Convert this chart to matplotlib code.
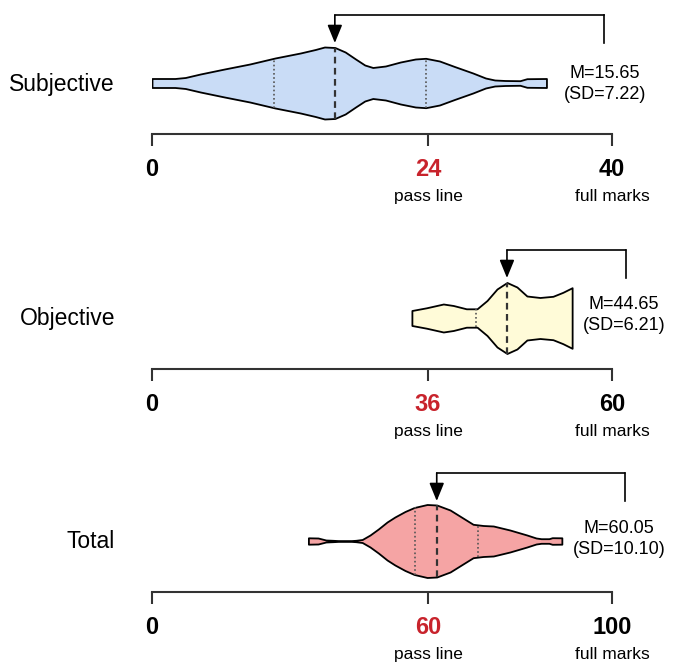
import numpy as np
import matplotlib
matplotlib.use("Agg")
import matplotlib.pyplot as plt
from matplotlib import transforms

plt.rcParams['font.family'] = ['Liberation Sans', 'DejaVu Sans']

# ---- data ----
names = ['Subjective', 'Objective', 'Total']
full_marks = [40, 60, 100]
pass_lines = [24, 36, 60]
means = [15.65, 44.65, 60.05]
sds = [7.22, 6.21, 10.10]
medians = [15.9, 46.3, 61.9]

# violin outlines: score position and half width (relative density)
subj_x = [0.0, 2.0, 2.9, 4.2, 6.3, 8.5, 10.7, 12.9, 14.2, 15.0, 15.9, 16.8, 17.7,
          18.5, 19.2, 20.3, 21.6, 22.9, 23.8, 25.0, 26.3, 27.9, 29.0, 29.8, 30.7,
          32.0, 32.6, 34.3]
subj_w = [4.5, 4.5, 5.5, 9, 14, 19, 25, 30, 33.5, 36, 35.5, 31, 24,
          18, 15.5, 17, 21, 24, 24.7, 22, 16.5, 10, 5, 3, 2.5,
          2.3, 4.3, 4.5]
subj_quart = [10.6, 23.8]

obj_x = [33.9, 35.8, 38.0, 39.3, 41.0, 42.4, 43.7, 45.0, 46.3, 47.6, 48.9,
         50.6, 52.3, 53.6, 54.8]
obj_w = [7.5, 10.2, 14, 12.5, 9.2, 9.2, 17.5, 29, 35.5, 31, 22,
         20.5, 21.7, 25.7, 30.3]
obj_quart = [42.3]

tot_x = [34.0, 36.1, 37.8, 39.3, 40.9, 43.0, 44.3, 45.7, 47.4, 49.2, 51.1, 52.8,
         55.0, 57.0, 59.8, 61.9, 64.8, 67.7, 69.8, 72.0, 74.2, 77.8, 81.5, 83.5,
         84.6, 86.3, 87.0, 89.1]
tot_w = [3.2, 3.0, 1.0, 0.7, 0.3, 0.3, 0.7, 1.5, 6, 12, 19, 24,
         29.5, 33.5, 36.5, 36, 31, 22.7, 16.7, 15.5, 15, 11, 6, 3,
         2.3, 2.3, 3.3, 3.2]
tot_quart = [57.2, 70.9]

profiles = [(subj_x, subj_w, subj_quart), (obj_x, obj_w, obj_quart), (tot_x, tot_w, tot_quart)]

# ---- layout (pixels) ----
W, H = 682, 664
centers = [83, 318, 541]
fills = ['#c9dcf6', '#fffbd8', '#f5a4a4']
text_x = [0.985, 1.026, 1.015]
text_dy = [-1, 3, 2]
bracket_x = [0.983, 1.03, 1.028]

fig = plt.figure(figsize=(W / 100, H / 100), dpi=100)

for i in range(3):
    cy = centers[i]
    ax = fig.add_axes([152 / W, (H - (cy + 51)) / H, 460 / W, 126 / H])
    ax.set_xlim(0, full_marks[i])
    ax.set_ylim(-51, 75)
    ax.patch.set_alpha(0)
    for s in ['top', 'left', 'right']:
        ax.spines[s].set_visible(False)
    ax.spines['bottom'].set_color('#333333')
    ax.spines['bottom'].set_linewidth(1.5)
    ax.set_yticks([])

    xs, ws, quarts = profiles[i]
    stats = [dict(coords=np.array(xs), vals=np.array(ws, dtype=float),
                  mean=means[i], median=medians[i], min=xs[0], max=xs[-1])]
    parts = ax.violin(stats, positions=[0], orientation='horizontal',
                      widths=2 * max(ws), showmeans=False, showextrema=False,
                      showmedians=False)
    for b in parts['bodies']:
        b.set_facecolor(fills[i])
        b.set_edgecolor('black')
        b.set_linewidth(1.3)
        b.set_alpha(1)

    for q in quarts:
        h = np.interp(q, xs, ws)
        ax.plot([q, q], [-h, h], ls=(0, (1, 1.5)), color='#555555', lw=1.2)
    h = np.interp(medians[i], xs, ws)
    ax.plot([medians[i], medians[i]], [-h, h], ls=(0, (3, 2)), color='#333333', lw=1.6)

    # ticks
    ax.set_xticks([0, pass_lines[i], full_marks[i]])
    ax.set_xticklabels(['0', str(pass_lines[i]), str(full_marks[i])],
                       fontsize=17, fontweight='bold')
    ax.get_xticklabels()[1].set_color('#c8232c')
    ax.tick_params(axis='x', direction='out', length=8.6, width=1.5,
                   color='#333333', pad=9)

    for xv, lab in [(pass_lines[i], 'pass line'), (full_marks[i], 'full marks')]:
        ax.annotate(lab, xy=(xv, 0), xycoords=('data', 'axes fraction'),
                    xytext=(0, -45), textcoords='offset points',
                    ha='center', va='center', fontsize=12.5)

    # group label
    fig.text(115 / W, 1 - (cy + 1) / H, names[i], ha='right', va='center', fontsize=16.5)

    # M / SD
    blend = transforms.blended_transform_factory(ax.transAxes, ax.transData)
    ax.text(text_x[i], text_dy[i], 'M=%.2f\n(SD=%.2f)' % (means[i], sds[i]),
            transform=blend, ha='center', va='center', fontsize=13,
            linespacing=1.25, multialignment='center', clip_on=False)

    # bracket + arrow to median
    ax.plot([bracket_x[i], bracket_x[i]], [40, 68], transform=blend,
            color='black', lw=1.2, clip_on=False)
    ax.annotate('', xy=(medians[i], 68), xycoords='data',
                xytext=(bracket_x[i], 68), textcoords=('axes fraction', 'data'),
                arrowprops=dict(arrowstyle='-', lw=1.2, color='black',
                                shrinkA=0, shrinkB=0),
                annotation_clip=False)
    ax.annotate('', xy=(medians[i], 40), xytext=(medians[i], 68),
                arrowprops=dict(arrowstyle='-|>,head_width=0.45,head_length=1.1',
                                mutation_scale=10, lw=1.2, color='black',
                                shrinkA=0, shrinkB=0),
                annotation_clip=False)

fig.savefig('out.png', dpi=100)
